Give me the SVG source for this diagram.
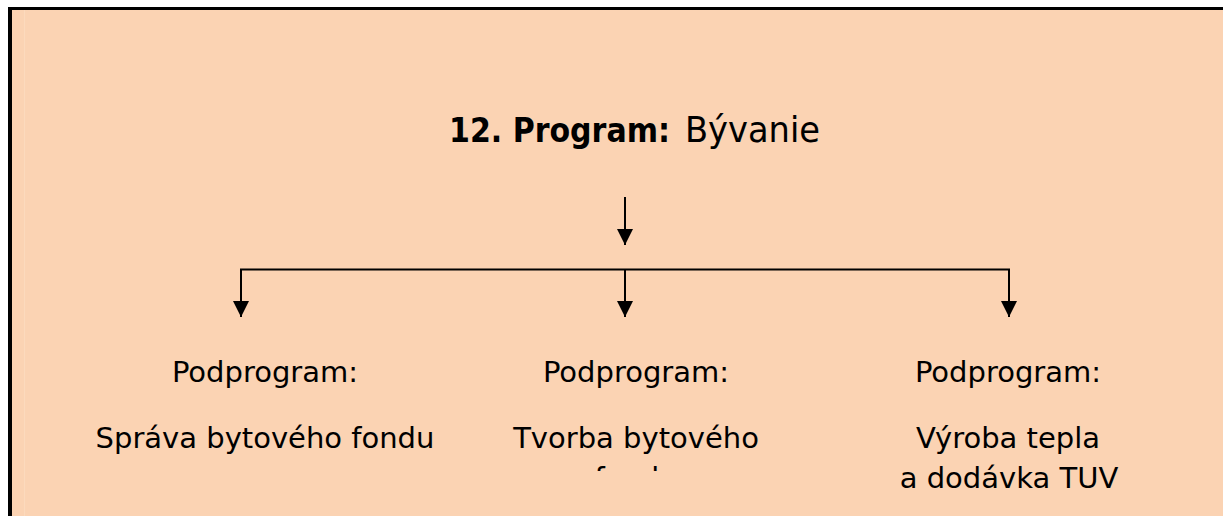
<svg xmlns="http://www.w3.org/2000/svg" width="1223" height="516" viewBox="0 0 1223 516">
  <defs>
    <style>
      .t { font-family: "DejaVu Sans", "Liberation Sans", sans-serif; fill: #000; }
      .sub { font-size: 29px; text-anchor: middle; }
      .conn { stroke: #000; stroke-width: 2; fill: none; }
    </style>
    <marker id="ah" viewBox="0 0 16 16" refX="16" refY="8" markerWidth="16" markerHeight="16" markerUnits="userSpaceOnUse" orient="auto">
      <path d="M0,0 L16,8 L0,16 Z" fill="#000"/>
    </marker>
    <clipPath id="clipMid">
      <rect x="480" y="380" width="320" height="91"/>
    </clipPath>
  </defs>
  <rect x="0" y="0" width="1223" height="516" fill="#fff"/>
  <rect x="12" y="10" width="1211" height="506" fill="#FBD3B3"/>
  <line x1="24.5" y1="10" x2="24.5" y2="516" stroke="#FCDABD" stroke-width="1"/>
  <rect x="8" y="7" width="1215" height="3" fill="#000"/>
  <rect x="8" y="7" width="4" height="509" fill="#000"/>

  <g id="title">
    <text class="t" x="449" y="142" font-size="34"><tspan font-weight="bold" textLength="221" lengthAdjust="spacingAndGlyphs">12. Program:</tspan><tspan x="685" font-size="36" textLength="135" lengthAdjust="spacingAndGlyphs">Bývanie</tspan></text>
  </g>

  <g id="connectors">
    <line class="conn" x1="625" y1="197" x2="625" y2="245" marker-end="url(#ah)"/>
    <polyline class="conn" points="241,317 241,269.5 1009,269.5 1009,317" marker-end="url(#ah)"/>
    <line class="conn" x1="241" y1="275" x2="241" y2="317" marker-end="url(#ah)"/>
    <line class="conn" x1="625" y1="269" x2="625" y2="317" marker-end="url(#ah)"/>
  </g>

  <g id="node-sprava">
    <text class="t sub" x="265" y="382">Podprogram:</text>
    <text class="t sub" x="265" y="448">Správa bytového fondu</text>
  </g>
  <g id="node-tvorba">
    <text class="t sub" x="636" y="382">Podprogram:</text>
    <g clip-path="url(#clipMid)">
      <text class="t sub" x="636" y="448">Tvorba bytového</text>
      <text class="t sub" x="636" y="487.5">fondu</text>
    </g>
  </g>
  <g id="node-vyroba">
    <text class="t sub" x="1008" y="382">Podprogram:</text>
    <text class="t sub" x="1008" y="448">Výroba tepla</text>
    <text class="t sub" x="1009" y="487.5">a dodávka TUV</text>
  </g>
</svg>
